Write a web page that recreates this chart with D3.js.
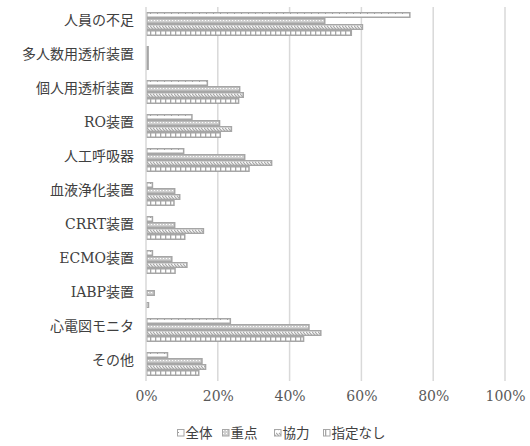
<!DOCTYPE html>
<html><head><meta charset="utf-8">
<script src="https://cdn.jsdelivr.net/npm/d3@7"></script>
<style>body{margin:0;background:#fff}</style>
</head><body>
<svg id="c" width="530" height="446"></svg>
<script>
const categories = ["人員の不足","多人数用透析装置","個人用透析装置","RO装置","人工呼吸器","血液浄化装置","CRRT装置","ECMO装置","IABP装置","心電図モニタ","その他"];
const seriesNames = ["全体","重点","協力","指定なし"];
const zentai   = [73.7, 0.8, 17.3, 13.0, 10.7, 2.0, 2.0, 2.0, 0.0, 23.7, 6.2];
const juten    = [50.0, 0.8, 26.3, 20.7, 27.7, 8.2, 8.2, 7.4, 2.5, 45.6, 15.8];
const kyoryoku = [60.5, 0.8, 27.3, 24.0, 35.2, 9.6, 16.2, 11.6, 0.0, 48.9, 16.8];
const shitei   = [57.4, 0.8, 26.0, 20.9, 28.9, 8.0, 11.0, 8.3, 0.9, 44.1, 14.9];
const tickValues = [0, 20, 40, 60, 80, 100];
const seriesValues = [zentai, juten, kyoryoku, shitei];

const svg = d3.select("#c");
const defs = svg.append("defs");
const G = "#a6a6a6";
const FONT = "'DejaVu Serif', 'Noto Sans CJK JP'";
// pattern 0: 全体 — white with sparse ticks
let p = defs.append("pattern").attr("id","p0").attr("patternUnits","userSpaceOnUse").attr("width",7).attr("height",6);
p.append("rect").attr("width",7).attr("height",6).attr("fill","#fff");
p.append("rect").attr("x",3).attr("y",0).attr("width",1).attr("height",1).attr("fill","#999");
// pattern 1: 重点 — small dotted
p = defs.append("pattern").attr("id","p1").attr("patternUnits","userSpaceOnUse").attr("width",3).attr("height",3);
p.append("rect").attr("width",3).attr("height",3).attr("fill","#d0d0d0");
p.append("rect").attr("x",1).attr("y",1).attr("width",1).attr("height",1).attr("fill","#fff");
// pattern 2: 協力 — diagonal dashes
p = defs.append("pattern").attr("id","p2").attr("patternUnits","userSpaceOnUse").attr("width",6).attr("height",6);
p.append("rect").attr("width",6).attr("height",6).attr("fill","#fff");
p.append("path").attr("d","M0,1 L3,4 M3,1 L6,4").attr("stroke","#a8a8a8").attr("stroke-width",1.1);
// pattern 3: 指定なし — vertical lines
p = defs.append("pattern").attr("id","p3").attr("patternUnits","userSpaceOnUse").attr("width",5).attr("height",6);
p.append("rect").attr("width",5).attr("height",6).attr("fill","#fff");
p.append("rect").attr("x",0).attr("y",0).attr("width",1.3).attr("height",6).attr("fill","#a6a6a6");

const x = d3.scaleLinear().domain([0,100]).range([146,505]);
const y = d3.scaleBand().domain(categories).range([7,381]).padding(0);
const ys = d3.scaleBand().domain(seriesNames).range([5,29]).padding(0);

// gridlines
svg.append("g").selectAll("line").data(tickValues.slice(1)).join("line")
  .attr("x1",d=>x(d)).attr("x2",d=>x(d)).attr("y1",7).attr("y2",381)
  .attr("stroke","#d9d9d9").attr("stroke-width",1.5);

// bars
categories.forEach((c,i)=>{
  const g = svg.append("g").attr("transform",`translate(0,${y(c)})`);
  g.selectAll("rect").data(seriesNames.map((s,j)=>({s,j,v:seriesValues[j][i]}))).join("rect")
    .attr("x",x(0)+0.75).attr("y",d=>ys(d.s)+0.75)
    .attr("width",d=>Math.max(0,x(d.v)-x(0)-1.5)).attr("height",ys.bandwidth()-1.5)
    .attr("fill",d=>`url(#p${d.j})`)
    .attr("stroke",G).attr("stroke-width",1.5)
    .attr("display",d=>d.v>0?null:"none");
});

// axis line (category axis)
svg.append("line").attr("x1",x(0)).attr("x2",x(0)).attr("y1",7).attr("y2",381)
  .attr("stroke","#d9d9d9").attr("stroke-width",1.5);

// category labels
const yAxis = d3.axisLeft(y).tickSize(0).tickPadding(12);
const ya = svg.append("g").attr("transform",`translate(${x(0)},0)`).call(yAxis);
ya.select(".domain").remove();
ya.selectAll("text").attr("font-family",FONT).attr("font-size",14).attr("fill","#404040").attr("dy","0.1em");

// x axis labels
const xAxis = d3.axisBottom(x).tickValues(tickValues).tickFormat(d=>d+"%").tickSize(0).tickPadding(0);
const xa = svg.append("g").attr("transform","translate(0,390)").call(xAxis);
xa.select(".domain").remove();
xa.selectAll("text").attr("font-family",FONT).attr("font-size",14).attr("fill","#595959").attr("dy","0.75em");

// legend
const legX = [177, 222, 274, 323];
const lg = svg.append("g");
seriesNames.forEach((s,j)=>{
  lg.append("rect").attr("x",legX[j]+0.5).attr("y",429.5).attr("width",6.5).attr("height",6.5)
    .attr("fill",`url(#p${j})`).attr("stroke",G).attr("stroke-width",1);
  lg.append("text").attr("x",legX[j]+8.5).attr("y",433).attr("dy","0.35em")
    .attr("font-family",FONT).attr("font-size",13.5).attr("fill","#404040").text(s);
});
</script>
</body></html>
